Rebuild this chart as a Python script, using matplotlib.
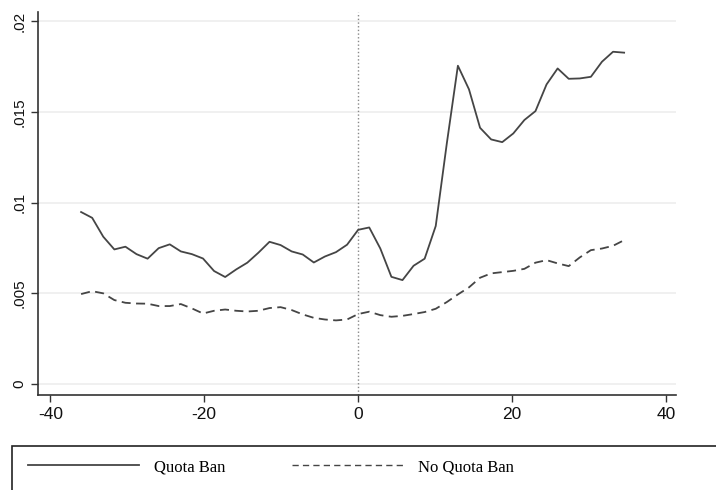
import matplotlib.pyplot as plt
from matplotlib.patches import Rectangle
from matplotlib.lines import Line2D

# months relative to the quota ban
months = [-36.0, -34.56, -33.12, -31.68, -30.24, -28.8, -27.36, -25.92, -24.48, -23.04,
          -21.6, -20.16, -18.72, -17.28, -15.84, -14.4, -12.96, -11.52, -10.08, -8.64,
          -7.2, -5.76, -4.32, -2.88, -1.44, 0.0, 1.44, 2.88, 4.32, 5.76,
          7.2, 8.64, 10.08, 11.52, 12.96, 14.4, 15.84, 17.28, 18.72, 20.16,
          21.6, 23.04, 24.48, 25.92, 27.36, 28.8, 30.24, 31.68, 33.12, 34.56]

quota_ban = [0.00948, 0.00916, 0.00812, 0.00742, 0.00757, 0.00716, 0.00691, 0.00749, 0.00770, 0.00731,
             0.00716, 0.00692, 0.00623, 0.00590, 0.00632, 0.00669, 0.00724, 0.00784, 0.00766, 0.00731,
             0.00714, 0.00670, 0.00703, 0.00727, 0.00768, 0.00850, 0.00863, 0.00747, 0.00591, 0.00573,
             0.00652, 0.00691, 0.00871, 0.01326, 0.01754, 0.01624, 0.01412, 0.01348, 0.01333, 0.01381,
             0.01455, 0.01504, 0.01651, 0.01739, 0.01682, 0.01684, 0.01693, 0.01776, 0.01831, 0.01826]

no_quota_ban = [0.00496, 0.00512, 0.00500, 0.00463, 0.00448, 0.00444, 0.00443, 0.00430, 0.00430, 0.00441,
                0.00417, 0.00389, 0.00404, 0.00411, 0.00404, 0.00400, 0.00404, 0.00419, 0.00424, 0.00408,
                0.00384, 0.00365, 0.00356, 0.00351, 0.00356, 0.00386, 0.00399, 0.00380, 0.00371, 0.00376,
                0.00386, 0.00397, 0.00415, 0.00452, 0.00494, 0.00533, 0.00586, 0.00610, 0.00617, 0.00624,
                0.00635, 0.00669, 0.00683, 0.00665, 0.00650, 0.00698, 0.00738, 0.00747, 0.00762, 0.00793]

xticks = [-40, -20, 0, 20, 40]
yticks = [0, 0.005, 0.01, 0.015, 0.02]
ytick_labels = ['0', '.005', '.01', '.015', '.02']

line_color = '#454545'

fig = plt.figure(figsize=(7.16, 4.9), dpi=100)
ax = fig.add_axes([38 / 716, 1 - 395 / 490, 638 / 716, 383 / 490])

# horizontal grid like Stata's s2mono scheme
for y in yticks:
    ax.axhline(y, color='#eeeeee', linewidth=1.2, zorder=0)
ax.axvline(0, color='#888888', linestyle=':', linewidth=1.0, zorder=1)

ax.plot(months, quota_ban, color=line_color, linewidth=1.3, zorder=3)
ax.plot(months, no_quota_ban, color=line_color, linewidth=1.3, linestyle=(0, (5, 3)), zorder=3)

ax.set_xlim(-41.6, 41.3)
ax.set_ylim(-0.0006, 0.0205)
ax.set_xticks(xticks)
ax.set_xticklabels([str(t) for t in xticks], fontsize=12.5)
ax.set_yticks(yticks)
ax.set_yticklabels(ytick_labels, rotation=90, va='center', fontsize=11)

for side in ['top', 'right']:
    ax.spines[side].set_visible(False)
for side in ['left', 'bottom']:
    ax.spines[side].set_color('#333333')
    ax.spines[side].set_linewidth(1.2)
ax.tick_params(direction='out', length=5, width=1.0, color='#333333', labelcolor='#111111')
for lab in ax.get_xticklabels() + ax.get_yticklabels():
    lab.set_family('Liberation Sans')

# legend box below the plot
fig.add_artist(Rectangle((12 / 716, -0.01), 0.99, 1 - 446 / 490 + 0.01,
                         transform=fig.transFigure, fill=False,
                         edgecolor='#222222', linewidth=1.2))
handles = [Line2D([], [], color=line_color, linewidth=1.3),
           Line2D([], [], color=line_color, linewidth=1.0, linestyle=(0, (4.5, 3)))]
labels = ['Quota Ban', 'No Quota Ban']
fig.legend(handles, labels, loc='center left', ncol=2,
           bbox_to_anchor=(28 / 716, 1 - 467 / 490), frameon=False,
           prop={'family': 'Liberation Serif', 'size': 12},
           handlelength=6.66, handletextpad=0.9, columnspacing=4.0,
           borderaxespad=0, borderpad=0)

fig.savefig('out.png', dpi=100)
